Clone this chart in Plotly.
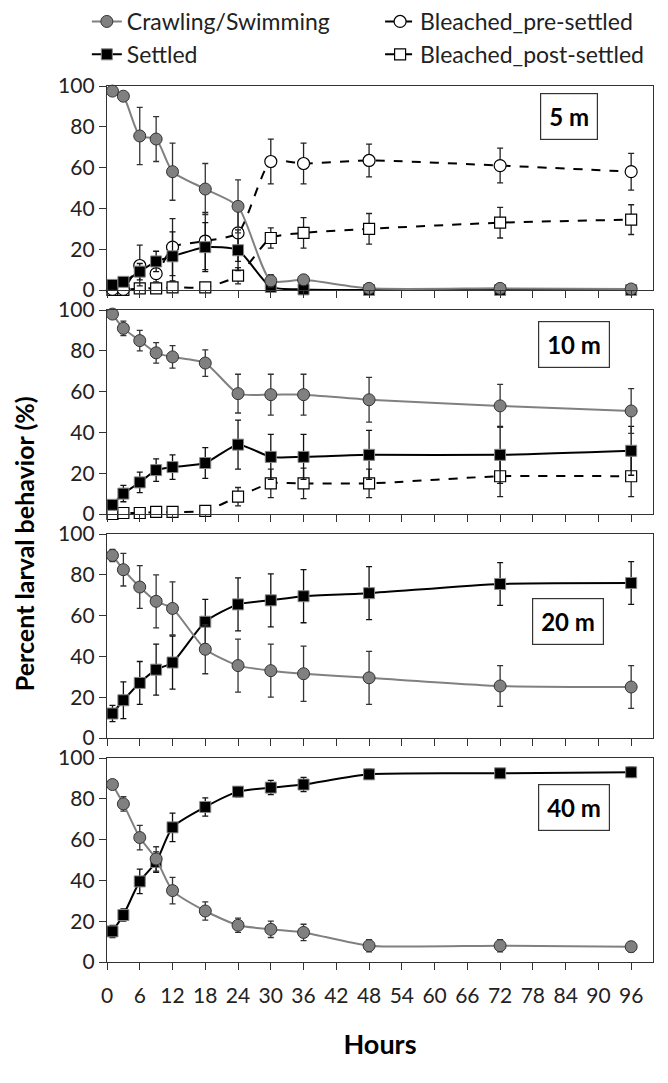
import plotly.graph_objects as go
from plotly.subplots import make_subplots

hours = [1, 3, 6, 9, 12, 18, 24, 30, 36, 48, 72, 96]
x_ticks = [0, 6, 12, 18, 24, 30, 36, 42, 48, 54, 60, 66, 72, 78, 84, 90, 96]
y_ticks = [0, 20, 40, 60, 80, 100]

# 5 m
crawl_5 = [97.5, 95, 75.5, 74, 58, 49.5, 41, 4.5, 5, 0.8, 0.8, 0.5]
crawl_5_err = [1, 1, 14, 11, 14, 12.5, 13, 3, 2, 0.5, 0.5, 0.5]
settled_5 = [2.5, 4, 9, 14, 16.5, 21, 19.5, 1.5, 0.3, 0, 0, 0]
settled_5_err = [1.5, 2, 4, 5, 12, 12, 10, 1.5, 0.5, 0, 0, 0]
pre_5 = [0.3, 0.3, 12, 8, 21, 24, 28, 63, 62, 63.5, 61, 58]
pre_5_err = [0.5, 0.5, 10, 4, 14, 14, 14, 11, 10, 8, 8.5, 9]
post_5 = [0, 0, 0.8, 0.8, 1.3, 1.3, 7, 25.5, 28, 30, 33, 34.5]
post_5_err = [0, 0, 1, 1, 1, 1, 4, 5, 7.5, 7.5, 7.5, 7.3]

# 10 m
crawl_10 = [98, 91, 85, 79, 77, 74, 59, 58.5, 58.5, 56, 53, 50.5]
crawl_10_err = [1, 3.5, 5, 5, 5.5, 6.5, 9.5, 10, 10, 11, 10.5, 11]
settled_10 = [4.5, 10, 15.5, 21.5, 23, 25, 34, 28, 28, 29, 29, 31]
settled_10_err = [1, 4, 5, 5.5, 6, 7.5, 12, 11, 11, 12, 14, 12]
post_10 = [0, 0.5, 0.5, 1, 1, 1.5, 8.5, 15, 15, 15, 18.5, 18.5]
post_10_err = [0, 0.5, 0.5, 0.5, 0.5, 1, 4.5, 7, 7.5, 7, 10, 10]

# 20 m
crawl_20 = [89.5, 82.5, 74, 67, 63.5, 43.5, 35.5, 33, 31.5, 29.5, 25.5, 25]
crawl_20_err = [3, 8, 10.5, 13, 13, 12, 13, 13, 13.5, 13, 10, 10.5]
settled_20 = [12, 18.5, 27, 33.5, 37, 57, 65.5, 67.5, 69.5, 71, 75.5, 76]
settled_20_err = [4, 9, 10.5, 12.5, 13, 11, 13, 13, 13, 13, 10.5, 10.5]

# 40 m
crawl_40 = [87, 77.5, 61, 50.5, 35, 25, 18, 16, 14.5, 8, 8, 7.5]
crawl_40_err = [1.5, 3.5, 6, 6, 6.5, 4.5, 3.5, 4, 4, 3, 3, 2.5]
settled_40 = [15, 23, 39.5, 49, 66, 76, 83.5, 85.5, 87, 92, 92.5, 93]
settled_40_err = [3, 3, 6, 5, 7, 4.5, 2.5, 3.5, 3.5, 2.5, 2, 2.5]

depth_labels = ["5 m", "10 m", "20 m", "40 m"]
label_x = [84.6, 85.5, 84.5, 85.5]
label_y = [85, 83, 57, 75.5]

panels = [
    dict(crawl=(crawl_5, crawl_5_err), settled=(settled_5, settled_5_err),
         pre=(pre_5, pre_5_err), post=(post_5, post_5_err)),
    dict(crawl=(crawl_10, crawl_10_err), settled=(settled_10, settled_10_err),
         post=(post_10, post_10_err)),
    dict(crawl=(crawl_20, crawl_20_err), settled=(settled_20, settled_20_err)),
    dict(crawl=(crawl_40, crawl_40_err), settled=(settled_40, settled_40_err)),
]

FONT = "Lato"
W, H = 668, 1083
ML, MR, MT, MB = 107, 15, 86, 121
GAP = 20
plot_h = H - MT - MB

fig = make_subplots(rows=4, cols=1, shared_xaxes=False,
                    vertical_spacing=GAP / plot_h)

styles = {
    "post": dict(name="Bleached_post-settled", rank=4, legend="legend2",
                 line=dict(color="black", width=2, dash="dash", shape="spline", smoothing=0.6),
                 marker=dict(symbol="square", size=11, color="white",
                             line=dict(color="black", width=1.2)),
                 err="#222222"),
    "pre": dict(name="Bleached_pre-settled", rank=2, legend="legend2",
                line=dict(color="black", width=2, dash="dash", shape="spline", smoothing=0.6),
                marker=dict(symbol="circle", size=12, color="white",
                            line=dict(color="black", width=1.2)),
                err="#222222"),
    "settled": dict(name="Settled", rank=3, legend="legend",
                    line=dict(color="black", width=2, shape="spline", smoothing=0.6),
                    marker=dict(symbol="square", size=11, color="black",
                                line=dict(color="#888888", width=1)),
                    err="#111111"),
    "crawl": dict(name="Crawling/Swimming", rank=1, legend="legend",
                  line=dict(color="#808080", width=2, shape="spline", smoothing=0.6),
                  marker=dict(symbol="circle", size=12, color="#808080",
                              line=dict(color="#333333", width=1)),
                  err="#333333"),
}

order = ["post", "pre", "settled", "crawl"]
for i, p in enumerate(panels):
    row = i + 1
    for key in order:
        if key not in p:
            continue
        vals, errs = p[key]
        s = styles[key]
        fig.add_trace(go.Scatter(
            x=hours, y=vals, mode="lines+markers", name=s["name"],
            line=s["line"], marker=s["marker"],
            error_y=dict(type="data", array=errs, visible=True,
                         color=s["err"], thickness=1.3, width=3),
            cliponaxis=False, showlegend=(i == 0), legendrank=s["rank"],
            legend=s["legend"],
        ), row=row, col=1)

    fig.add_annotation(
        x=label_x[i], y=label_y[i], xref=f"x{'' if row == 1 else row}",
        yref=f"y{'' if row == 1 else row}",
        text=f"<b>{depth_labels[i]}</b>", showarrow=False,
        font=dict(family=FONT, size=24, color="black"),
        bordercolor="#333333", borderwidth=1.2, borderpad=8, bgcolor="white")

for row in range(1, 5):
    fig.update_xaxes(
        range=[0, 100], tickvals=x_ticks, ticks="outside", ticklen=7,
        tickwidth=1.3, tickcolor="#333333", showline=True, linecolor="#333333",
        linewidth=1.3, mirror=True, showgrid=False, zeroline=False,
        showticklabels=(row == 4), ticklabelstandoff=8,
        tickfont=dict(family=FONT, size=21, color="#222222"),
        row=row, col=1)
    fig.update_yaxes(
        range=[0, 100], tickvals=y_ticks, ticks="outside", ticklen=7,
        tickwidth=1.3, tickcolor="#333333", showline=True, linecolor="#333333",
        linewidth=1.3, mirror=True, showgrid=False, zeroline=False,
        tickfont=dict(family=FONT, size=21, color="#222222"),
        row=row, col=1)

fig.update_xaxes(title=dict(text="<b>Hours</b>", font=dict(family=FONT, size=27, color="black"),
                            standoff=28), row=4, col=1)

fig.add_annotation(
    x=-0.152, y=0.477, xref="paper", yref="paper", xanchor="center", yanchor="middle",
    text="<b>Percent larval behavior (%)</b>", textangle=-90, showarrow=False,
    font=dict(family=FONT, size=25, color="black"))

leg_common = dict(orientation="v", xref="container", yref="container",
                  xanchor="left", yanchor="top", itemwidth=30,
                  font=dict(family=FONT, size=23, color="#222222"),
                  tracegroupgap=0, bgcolor="rgba(0,0,0,0)")

fig.update_layout(
    width=W, height=H,
    margin=dict(l=ML, r=MR, t=MT, b=MB, autoexpand=False),
    paper_bgcolor="white", plot_bgcolor="white",
    font=dict(family=FONT, color="black"),
    legend=dict(x=0.130, y=1.013, **leg_common),
    legend2=dict(x=0.569, y=1.013, **leg_common),
)

fig.write_html("out.html", config={"displayModeBar": False},
               post_script="document.body.style.margin='0';")
